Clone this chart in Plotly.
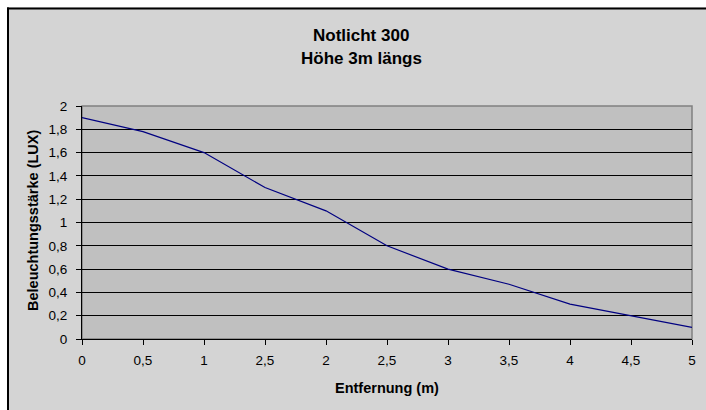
import plotly.graph_objects as go

categories = ["0", "0,5", "1", "2,5", "2", "2,5", "3", "3,5", "4", "4,5", "5"]
lux = [1.90, 1.78, 1.60, 1.30, 1.10, 0.80, 0.60, 0.47, 0.30, 0.20, 0.10]
y_ticks = [0, 0.2, 0.4, 0.6, 0.8, 1.0, 1.2, 1.4, 1.6, 1.8, 2.0]
y_tick_labels = ["0", "0,2", "0,4", "0,6", "0,8", "1", "1,2", "1,4", "1,6", "1,8", "2"]
title_lines = ["Notlicht 300", "Höhe 3m längs"]
x_title = "Entfernung (m)"
y_title = "Beleuchtungsstärke (LUX)"

xs = list(range(len(categories)))

W, H = 706, 410
L, R, T, B = 82, 14, 106, 71
pw = W - L - R
ph = H - T - B


def px_x(p):
    return (p - L) / pw


def px_y(p):
    return (H - B - p) / ph


FONT = "Liberation Sans, Arial, sans-serif"

fig = go.Figure()
fig.add_trace(go.Scatter(x=xs, y=lux, mode="lines",
                         line=dict(color="#000080", width=1.2),
                         showlegend=False, hoverinfo="skip"))

# chart area fill (extends past the window on the right and bottom)
fig.add_shape(type="rect", xref="paper", yref="paper",
              x0=px_x(7), x1=px_x(W + 20), y0=px_y(H + 20), y1=px_y(7.5),
              fillcolor="#d4d4d4", line=dict(width=0), layer="below")
# black border, left and top edges
fig.add_shape(type="line", xref="paper", yref="paper",
              x0=px_x(8), x1=px_x(8), y0=px_y(7.5), y1=px_y(H + 20),
              line=dict(color="black", width=2), layer="below")
fig.add_shape(type="line", xref="paper", yref="paper",
              x0=px_x(7), x1=px_x(W + 20), y0=px_y(8.5), y1=px_y(8.5),
              line=dict(color="black", width=2), layer="below")
# plot area
fig.add_shape(type="rect", xref="x domain", yref="y domain",
              x0=0, x1=1, y0=0, y1=1,
              fillcolor="#c0c0c0", line=dict(color="#808080", width=1.5), layer="below")

anns = [
    dict(text="<b>%s</b>" % title_lines[0], x=px_x(361), y=px_y(35), font=dict(size=17)),
    dict(text="<b>%s</b>" % title_lines[1], x=px_x(361), y=px_y(59), font=dict(size=17)),
    dict(text="<b>%s</b>" % x_title, x=px_x(387), y=px_y(388), font=dict(size=14.5)),
    dict(text="<b>%s</b>" % y_title, x=px_x(33), y=px_y(221), font=dict(size=14.5), textangle=-90),
]
for a in anns:
    fig.add_annotation(xref="paper", yref="paper", showarrow=False,
                       xanchor="center", yanchor="middle", **a)

fig.update_layout(
    width=W, height=H,
    margin=dict(l=L, r=R, t=T, b=B, autoexpand=False),
    paper_bgcolor="white",
    plot_bgcolor="#c0c0c0",
    font=dict(family=FONT, color="black", size=13.5),
    xaxis=dict(range=[0, len(categories) - 1], tickmode="array", tickvals=xs,
               ticktext=categories, showgrid=False, zeroline=False,
               showline=True, linecolor="black", linewidth=1,
               ticks="outside", ticklen=5, tickcolor="black", tickwidth=1,
               ticklabelstandoff=4, fixedrange=True, automargin=False),
    yaxis=dict(range=[0, 2], tickmode="array", tickvals=y_ticks, ticktext=y_tick_labels,
               showgrid=True, gridcolor="black", gridwidth=1, zeroline=False,
               showline=True, linecolor="black", linewidth=1,
               ticks="outside", ticklen=5, tickcolor="black", tickwidth=1,
               ticklabelstandoff=6, fixedrange=True, automargin=False),
)

fig.write_html(
    "out.html",
    config={"displayModeBar": False},
    post_script="document.body.style.margin='0';document.body.style.overflow='hidden';",
)
